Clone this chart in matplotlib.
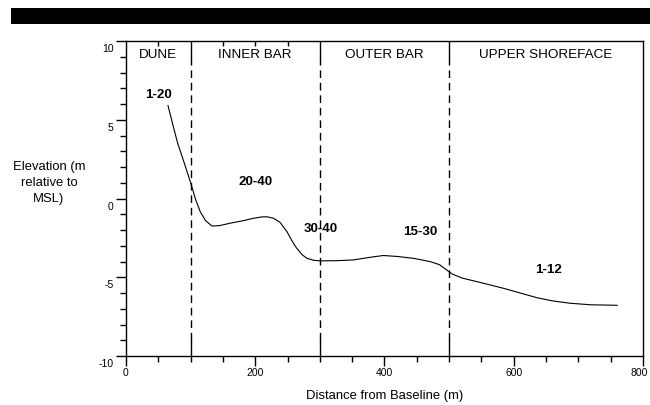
import matplotlib
matplotlib.use("Agg")
import matplotlib.pyplot as plt
from matplotlib.patches import Rectangle
from matplotlib.transforms import ScaledTranslation

plt.rcParams["font.family"] = ["Liberation Sans", "DejaVu Sans"]
plt.rcParams["axes.unicode_minus"] = False

# beach profile
DIST = [65, 73, 80, 89, 100, 108, 115, 123, 133, 145, 161, 180, 197, 210,
        218, 228, 238, 249, 257, 264, 272, 280, 290, 300, 325, 352, 375, 398,
        420, 445, 470, 485, 495, 505, 520, 550, 584, 610, 636, 660, 687,
        720, 760]
ELEV = [5.9, 4.6, 3.5, 2.4, 1.0, -0.1, -0.85, -1.4, -1.75, -1.72, -1.57,
        -1.42, -1.26, -1.17, -1.16, -1.25, -1.5, -2.1, -2.7, -3.15, -3.55,
        -3.8, -3.92, -3.96, -3.95, -3.9, -3.75, -3.62, -3.68, -3.8, -4.0,
        -4.2, -4.5, -4.8, -5.05, -5.35, -5.7, -6.0, -6.3, -6.5,
        -6.65, -6.75, -6.78]

ZONE_BOUNDS = [100, 300, 500]
ZONE_NAMES = ["DUNE", "INNER BAR", "OUTER BAR", "UPPER SHOREFACE"]
ZONE_CENTERS = [50, 200, 400, 650]

RANGE_LABELS = ["1-20", "20-40", "30-40", "15-30", "1-12"]
RANGE_X = [51, 201, 301, 455, 654]
RANGE_Y = [6.57, 1.07, -1.96, -2.1, -4.54]

fig = plt.figure(figsize=(6.5, 4.05), dpi=100)
ax = fig.add_axes([126 / 650, 1 - 356 / 405, 517 / 650, 315 / 405])

# black header bar
fig.add_artist(Rectangle((11 / 650, 1 - 24 / 405), 1 - 11 / 650, 16 / 405,
                         transform=fig.transFigure, color="black", lw=0))

ax.plot(DIST, ELEV, color="black", lw=0.8)

for xb in ZONE_BOUNDS:
    ax.plot([xb, xb], [8.6, 10], color="black", lw=1.0)
    ax.plot([xb, xb], [-9.0, 8.6], color="black", lw=1.0,
            linestyle=(0, (5.5, 3.5)))
    ax.plot([xb, xb], [-10, -9.0], color="black", lw=1.0)

for name, xc in zip(ZONE_NAMES, ZONE_CENTERS):
    ax.text(xc, 9.1, name, ha="center", va="center", fontsize=9.7)

for lab, x, y in zip(RANGE_LABELS, RANGE_X, RANGE_Y):
    ax.text(x, y, lab, ha="center", va="center", fontsize=9.6,
            fontweight="bold")

ax.set_xlim(0, 800)
ax.set_ylim(-10, 10)
ax.set_xticks([0, 200, 400, 600, 800])
ax.set_xticks(range(0, 801, 50), minor=True)
ax.set_yticks([-10, -5, 0, 5, 10])
ax.set_yticks(range(-10, 11), minor=True)
ax.tick_params(axis="both", which="major", direction="out", length=7,
               width=1.0, labelsize=7.5, pad=2)
ax.tick_params(axis="both", which="minor", direction="out", length=4,
               width=1.0)
for sp in ax.spines.values():
    sp.set_linewidth(1.0)

# y tick labels sit a little below their ticks in the original
for lab in ax.get_yticklabels():
    lab.set_transform(lab.get_transform() +
                      ScaledTranslation(0, -0.07, fig.dpi_scale_trans))
# keep the last x label inside the canvas
last = ax.get_xticklabels()[-1]
last.set_transform(last.get_transform() +
                   ScaledTranslation(-0.035, 0, fig.dpi_scale_trans))

# small inward ticks along the top edge
top = ax.secondary_xaxis("top")
top.set_xticks([50, 150, 200, 250])
top.tick_params(direction="in", length=3.5, width=1.0, labeltop=False)
top.spines["top"].set_visible(False)

ax.set_xlabel("Distance from Baseline (m)", fontsize=9.4, labelpad=8)
fig.text(49 / 650, 1 - 183 / 405, "Elevation (m\nrelative to\nMSL)",
         ha="center", va="center", multialignment="center", fontsize=9.4,
         linespacing=1.4)

fig.savefig("out.png", dpi=100)
